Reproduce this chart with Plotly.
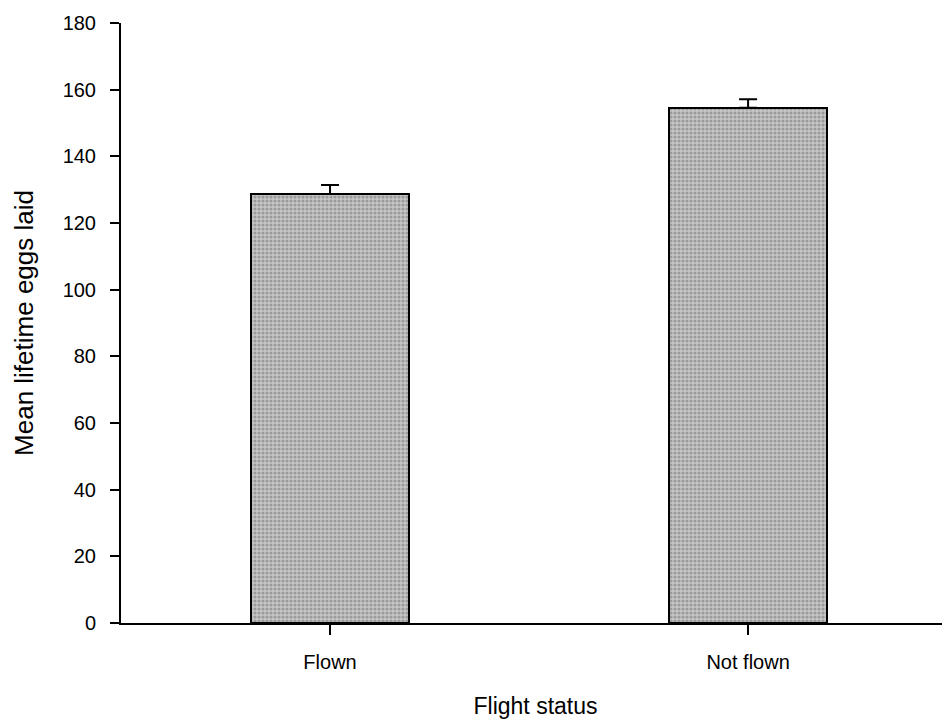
import plotly.graph_objects as go

categories = ["Flown", "Not flown"]
mean_eggs = [128.7, 154.6]
sem_eggs = [2.7, 2.5]
y_ticks = [0, 20, 40, 60, 80, 100, 120, 140, 160, 180]

fig = go.Figure()
fig.add_trace(go.Bar(
    x=categories,
    y=mean_eggs,
    width=0.378,
    marker=dict(
        color="#b8b8b8",
        line=dict(color="black", width=2),
        pattern=dict(shape=".", fgcolor="#6e6e6e", bgcolor="#c6c6c6", size=4, solidity=0.5),
    ),
    error_y=dict(type="data", array=sem_eggs, arrayminus=[0, 0], symmetric=False,
                 color="black", thickness=2, width=9),
    showlegend=False,
))

font_family = "Liberation Sans, Arial, sans-serif"
fig.update_layout(
    width=942, height=719,
    margin=dict(l=113, r=0, t=15, b=104),
    paper_bgcolor="white", plot_bgcolor="white",
    font=dict(family=font_family, color="black", size=20),
    bargap=0,
    xaxis=dict(
        type="category",
        range=[-0.5, 1.483],
        showline=True, linecolor="black", linewidth=2,
        ticks="outside", ticklen=10, tickwidth=2, tickcolor="black",
        tickfont=dict(size=20), ticklabelstandoff=10,
        title=dict(text="Flight status", font=dict(size=23), standoff=26),
        showgrid=False, zeroline=False,
    ),
    yaxis=dict(
        range=[0, 180],
        tickvals=y_ticks,
        showline=True, linecolor="black", linewidth=2,
        ticks="outside", ticklen=9, tickwidth=2, tickcolor="black",
        tickfont=dict(size=20), ticklabelstandoff=10,
        title=dict(text="Mean lifetime eggs laid", font=dict(size=26), standoff=22),
        showgrid=False, zeroline=False,
    ),
)

fig.write_html("out.html")
